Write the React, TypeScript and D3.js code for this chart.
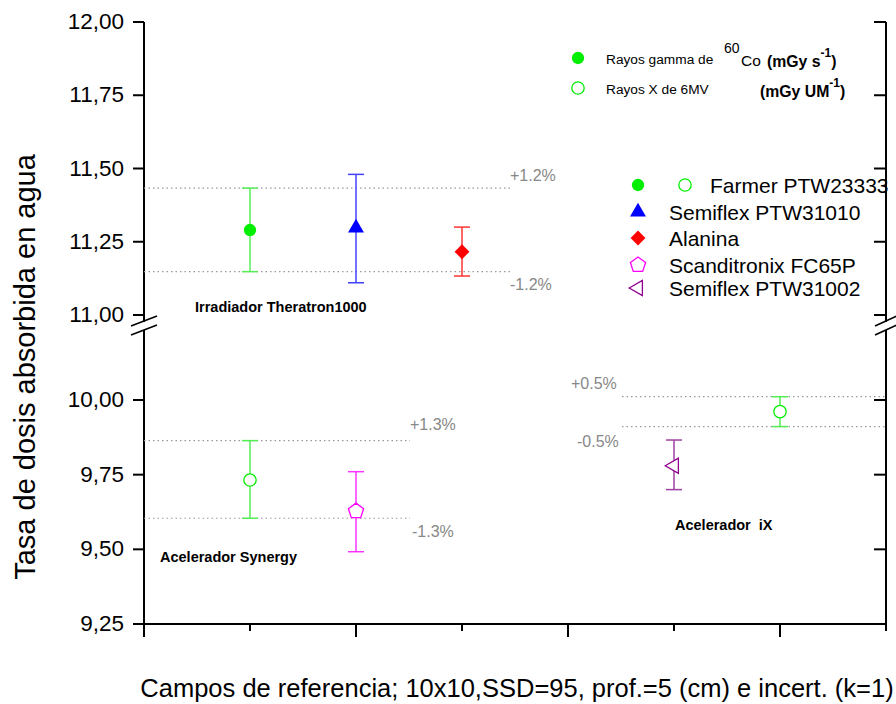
import React from 'react'
import * as d3 from 'd3'

// x positions are in "slot" units along the bottom axis (0..3.5)
const coNames = ['Farmer PTW23333', 'Semiflex PTW31010', 'Alanina']
const coX = [0.5, 1.0, 1.5]
const coValue = [11.29, 11.297, 11.216]
const coLow = [11.148, 11.11, 11.133]
const coHigh = [11.433, 11.48, 11.30]

const synNames = ['Farmer PTW23333', 'Scanditronix FC65P']
const synX = [0.5, 1.0]
const synValue = [9.732, 9.628]
const synLow = [9.604, 9.492]
const synHigh = [9.864, 9.76]

const ixNames = ['Semiflex PTW31002', 'Farmer PTW23333']
const ixX = [2.5, 3.0]
const ixValue = [9.78, 9.961]
const ixLow = [9.70, 9.911]
const ixHigh = [9.866, 10.011]

const upperTicks = [11.0, 11.25, 11.5, 11.75, 12.0]
const lowerTicks = [9.25, 9.5, 9.75, 10.0]
const xMajor = [0, 1, 2, 3]
const xMinor = [0.5, 1.5, 2.5, 3.5]

const coBand = [11.433, 11.148]
const coBandLabels = ['+1.2%', '-1.2%']
const synBand = [9.864, 9.604]
const synBandLabels = ['+1.3%', '-1.3%']
const ixBand = [10.011, 9.911]
const ixBandLabels = ['+0.5%', '-0.5%']

const legendNames = ['Farmer PTW23333', 'Semiflex PTW31010', 'Alanina', 'Scanditronix FC65P', 'Semiflex PTW31002']

const FONT = "'Liberation Sans', Arial, Helvetica, sans-serif"

const style: Record<string, { kind: string; color: string; bar: string; fill: boolean }> = {
  'Farmer PTW23333': { kind: 'circle', color: '#00ee00', bar: '#55ee55', fill: true },
  'Semiflex PTW31010': { kind: 'triangle', color: '#0000ff', bar: '#4444ff', fill: true },
  'Alanina': { kind: 'diamond', color: '#ff0000', bar: '#ff3333', fill: true },
  'Scanditronix FC65P': { kind: 'pentagon', color: '#ff00ff', bar: '#ff33ff', fill: false },
  'Semiflex PTW31002': { kind: 'left', color: '#8e008e', bar: '#a040a0', fill: false },
}

function pentagonPath(r: number) {
  const pts = d3.range(5).map(i => {
    const a = -Math.PI / 2 + (i * 2 * Math.PI) / 5
    return [r * Math.cos(a), r * Math.sin(a)] as [number, number]
  })
  return d3.line()(pts) + 'Z'
}

function Marker({ kind, color, fill, cx, cy }: { kind: string; color: string; fill: boolean; cx: number; cy: number }) {
  let d = ''
  let rot = 0
  if (kind === 'circle') d = d3.symbol(d3.symbolCircle, 120)()!
  else if (kind === 'triangle') d = d3.symbol(d3.symbolTriangle, 110)()!
  else if (kind === 'diamond') { d = d3.symbol(d3.symbolSquare, 110)()!; rot = 45 }
  else if (kind === 'pentagon') d = pentagonPath(8)
  else if (kind === 'left') { d = d3.symbol(d3.symbolTriangle, 100)()!; rot = -90 }
  return (
    <path d={d} transform={`translate(${cx},${cy}) rotate(${rot})`}
      fill={fill ? color : '#fff'} stroke={color} strokeWidth={fill ? 0 : 1.3} />
  )
}

function ErrPoint({ x, y, v, lo, hi, name, open }: any) {
  const s = style[name]
  const cx = x
  const fill = open ? false : s.fill
  return (
    <g>
      <line x1={cx} x2={cx} y1={y(hi)} y2={y(lo)} stroke={s.bar} strokeWidth={1.5} />
      <line x1={cx - 8} x2={cx + 8} y1={y(hi)} y2={y(hi)} stroke={s.bar} strokeWidth={1.5} />
      <line x1={cx - 8} x2={cx + 8} y1={y(lo)} y2={y(lo)} stroke={s.bar} strokeWidth={1.5} />
      <Marker kind={s.kind} color={s.color} fill={fill} cx={cx} cy={y(v)} />
    </g>
  )
}

export default function App() {
  const x = d3.scaleLinear().domain([0, 3.5]).range([144, 886])
  const yTop = d3.scaleLinear().domain([11, 12]).range([315, 22])
  const yBot = d3.scaleLinear().domain([9.25, 10]).range([624, 400])
  const fmt = (v: number) => d3.format('.2f')(v).replace('.', ',')

  const left = x(0)
  const right = x(3.5)
  const bottom = yBot(9.25)
  const breakA = 322
  const breakB = 330

  return (
    <svg width={896} height={704} style={{ position: 'absolute', left: 0, top: 0, background: '#fff' }}
      fontFamily={FONT}>
      {/* axes lines */}
      <g stroke="#000" strokeWidth={2}>
        <line x1={left} x2={left} y1={yTop(12)} y2={breakA} />
        <line x1={left} x2={left} y1={breakB} y2={bottom} />
        <line x1={right} x2={right} y1={yTop(12)} y2={breakA} />
        <line x1={right} x2={right} y1={breakB} y2={bottom} />
        <line x1={left} x2={right} y1={bottom} y2={bottom} />
        {/* break marks */}
        <line x1={left - 13} x2={left + 13} y1={breakA + 4} y2={breakA - 6} strokeWidth={1.6} />
        <line x1={left - 13} x2={left + 13} y1={breakB + 5} y2={breakB - 5} strokeWidth={1.6} />
        <line x1={right - 11} x2={right + 11} y1={breakA + 4} y2={breakA - 6} strokeWidth={1.6} />
        <line x1={right - 11} x2={right + 11} y1={breakB + 5} y2={breakB - 5} strokeWidth={1.6} />
      </g>

      {/* y ticks */}
      <g stroke="#000" strokeWidth={2}>
        {upperTicks.map(t => (
          <g key={'u' + t}>
            <line x1={left - 11} x2={left} y1={yTop(t)} y2={yTop(t)} />
            <line x1={right - 12} x2={right} y1={yTop(t)} y2={yTop(t)} />
          </g>
        ))}
        {lowerTicks.map(t => (
          <g key={'l' + t}>
            <line x1={left - 11} x2={left} y1={yBot(t)} y2={yBot(t)} />
            <line x1={right - 12} x2={right} y1={yBot(t)} y2={yBot(t)} />
          </g>
        ))}
        {xMajor.map(t => <line key={'xm' + t} x1={x(t)} x2={x(t)} y1={bottom} y2={bottom + 13} />)}
        {xMinor.map(t => <line key={'xn' + t} x1={x(t)} x2={x(t)} y1={bottom} y2={bottom + 7} />)}
      </g>
      <g fontSize={22.5} textAnchor="end" fill="#000">
        {upperTicks.map(t => <text key={'ut' + t} x={left - 20} y={yTop(t) + 7}>{fmt(t)}</text>)}
        {lowerTicks.map(t => <text key={'lt' + t} x={left - 20} y={yBot(t) + 7}>{fmt(t)}</text>)}
      </g>

      {/* axis titles */}
      <text transform={`translate(35,${367}) rotate(-90)`} textAnchor="middle" fontSize={29}>
        Tasa de dosis absorbida en agua
      </text>
      <text x={517} y={697} textAnchor="middle" fontSize={25.5}>
        Campos de referencia; 10x10,SSD=95, prof.=5 (cm) e incert. (k=1)
      </text>

      {/* uncertainty bands */}
      <g stroke="#999" strokeWidth={1.2} strokeDasharray="1.5,3">
        {coBand.map(v => <line key={'cb' + v} x1={left} x2={513} y1={yTop(v)} y2={yTop(v)} />)}
        {synBand.map(v => <line key={'sb' + v} x1={left} x2={410} y1={yBot(v)} y2={yBot(v)} />)}
        {ixBand.map(v => <line key={'ib' + v} x1={622} x2={right} y1={yBot(v)} y2={yBot(v)} />)}
      </g>
      <g fill="#888" fontSize={16}>
        <text x={510} y={yTop(coBand[0]) - 7}>{coBandLabels[0]}</text>
        <text x={510} y={yTop(coBand[1]) + 18}>{coBandLabels[1]}</text>
        <text x={410} y={yBot(synBand[0]) - 11}>{synBandLabels[0]}</text>
        <text x={412} y={yBot(synBand[1]) + 19}>{synBandLabels[1]}</text>
        <text x={571} y={yBot(ixBand[0]) - 8}>{ixBandLabels[0]}</text>
        <text x={577} y={yBot(ixBand[1]) + 20}>{ixBandLabels[1]}</text>
      </g>

      {/* data */}
      {coNames.map((n, i) => (
        <ErrPoint key={'co' + i} x={x(coX[i])} y={yTop} v={coValue[i]} lo={coLow[i]} hi={coHigh[i]} name={n} open={false} />
      ))}
      {synNames.map((n, i) => (
        <ErrPoint key={'sy' + i} x={x(synX[i])} y={yBot} v={synValue[i]} lo={synLow[i]} hi={synHigh[i]} name={n} open={true} />
      ))}
      {ixNames.map((n, i) => (
        <ErrPoint key={'ix' + i} x={x(ixX[i])} y={yBot} v={ixValue[i]} lo={ixLow[i]} hi={ixHigh[i]} name={n} open={true} />
      ))}

      {/* group labels */}
      <g fontWeight="bold" fontSize={14.5}>
        <text x={195} y={312}>Irradiador Theratron1000</text>
        <text x={160} y={562}>Acelerador Synergy</text>
        <text x={675} y={530} style={{ whiteSpace: 'pre' }}>Acelerador  iX</text>
      </g>

      {/* radiation legend */}
      <Marker kind="circle" color="#00ee00" fill={true} cx={578} cy={58} />
      <Marker kind="circle" color="#00ee00" fill={false} cx={578} cy={88} />
      <text x={606} y={64} fontSize={13.7}>Rayos gamma de</text>
      <text x={724} y={53} fontSize={14}>60</text>
      <text x={741} y={66} fontSize={15.5}>Co</text>
      <text x={767} y={67} fontSize={15.8} fontWeight="bold">(mGy s<tspan dy={-10} fontSize={12}>-1</tspan><tspan dy={10}>)</tspan></text>
      <text x={606} y={94} fontSize={13.7}>Rayos X de 6MV</text>
      <text x={760} y={97} fontSize={15.8} fontWeight="bold">(mGy UM<tspan dy={-10} fontSize={12}>-1</tspan><tspan dy={10}>)</tspan></text>

      {/* detector legend */}
      {legendNames.map((n, i) => {
        const s = style[n]
        const ys = [185, 212, 238, 265, 288]
        return (
          <g key={'lg' + n}>
            <Marker kind={s.kind} color={s.color} fill={s.fill} cx={638} cy={ys[i]} />
            {i === 0 && <Marker kind="circle" color="#00ee00" fill={false} cx={685} cy={ys[i]} />}
            <text x={i === 0 ? 710 : 669} y={ys[i] + 8} fontSize={21}>{n}</text>
          </g>
        )
      })}
    </svg>
  )
}
